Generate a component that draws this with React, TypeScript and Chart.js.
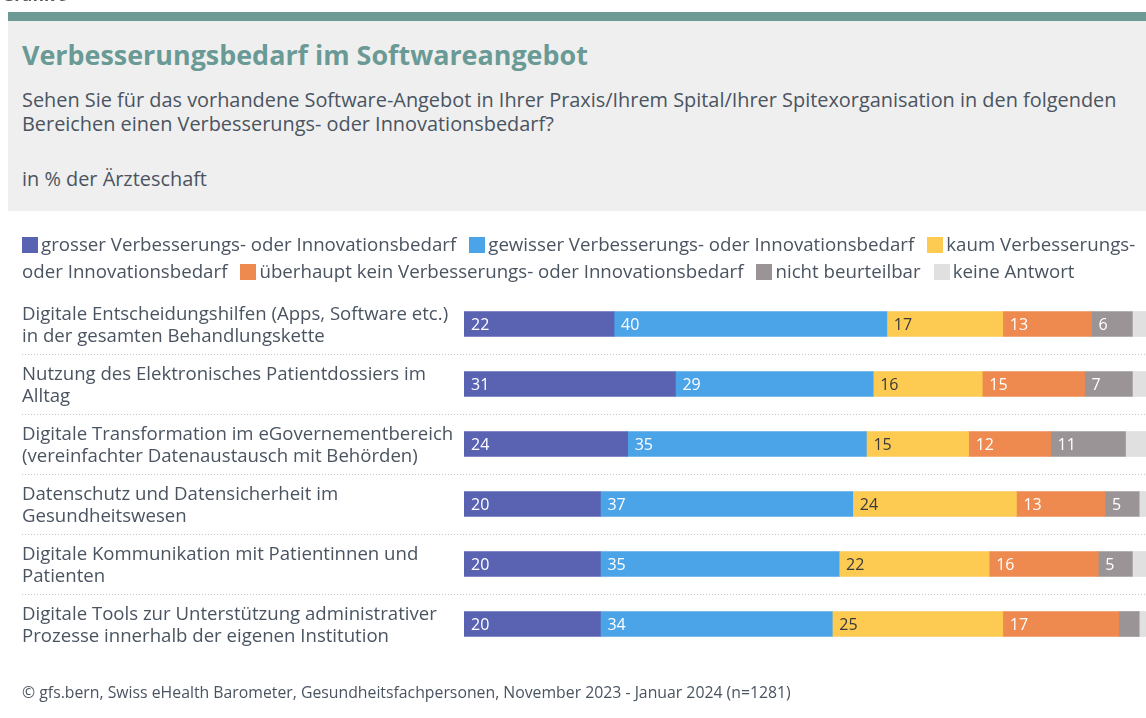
import React, { useEffect, useRef } from "react";
import { Chart, registerables } from "chart.js";

Chart.register(...registerables);

const categories: string[][] = [
  ["Digitale Entscheidungshilfen (Apps, Software etc.)", "in der gesamten Behandlungskette"],
  ["Nutzung des Elektronisches Patientdossiers im", "Alltag"],
  ["Digitale Transformation im eGovernementbereich", "(vereinfachter Datenaustausch mit Behörden)"],
  ["Datenschutz und Datensicherheit im", "Gesundheitswesen"],
  ["Digitale Kommunikation mit Patientinnen und", "Patienten"],
  ["Digitale Tools zur Unterstützung administrativer", "Prozesse innerhalb der eigenen Institution"],
];

const seriesNames = [
  "grosser Verbesserungs- oder Innovationsbedarf",
  "gewisser Verbesserungs- oder Innovationsbedarf",
  "kaum Verbesserungs- oder Innovationsbedarf",
  "überhaupt kein Verbesserungs- oder Innovationsbedarf",
  "nicht beurteilbar",
  "keine Antwort",
];

const grosser = [22, 31, 24, 20, 20, 20];
const gewisser = [40, 29, 35, 37, 35, 34];
const kaum = [17, 16, 15, 24, 22, 25];
const ueberhaupt = [13, 15, 12, 13, 16, 17];
const nichtBeurteilbar = [6, 7, 11, 5, 5, 3];
const keineAntwort = [2, 2, 3, 1, 2, 1];

const seriesValues = [grosser, gewisser, kaum, ueberhaupt, nichtBeurteilbar, keineAntwort];
const seriesColors = ["#5a63b2", "#4ba3e8", "#fdca52", "#ee8a4f", "#9b9496", "#e0e0e0"];
const labelColors = ["#ffffff", "#ffffff", "#3a3a3a", "#ffffff", "#ffffff", "#ffffff"];

const FONT = "'Open Sans', 'Noto Sans', sans-serif";
const TEXT = "#4a5461";

const separatorPlugin = {
  id: "separators",
  beforeDatasetsDraw(chart: any) {
    const y = chart.scales.y;
    const ctx = chart.ctx;
    ctx.save();
    ctx.strokeStyle = "#c8c8c8";
    ctx.lineWidth = 1;
    ctx.setLineDash([1, 2]);
    for (let i = 0; i < categories.length - 1; i++) {
      const yy = Math.round((y.getPixelForValue(i) + y.getPixelForValue(i + 1)) / 2) + 0.5;
      ctx.beginPath();
      ctx.moveTo(0, yy);
      ctx.lineTo(chart.width, yy);
      ctx.stroke();
    }
    ctx.restore();
  },
};

const valueLabelPlugin = {
  id: "valueLabels",
  afterDatasetsDraw(chart: any) {
    const ctx = chart.ctx;
    ctx.save();
    ctx.font = `16px ${FONT}`;
    ctx.textBaseline = "middle";
    ctx.textAlign = "left";
    chart.data.datasets.forEach((ds: any, di: number) => {
      if (di === 5) return;
      const meta = chart.getDatasetMeta(di);
      meta.data.forEach((el: any, i: number) => {
        const v = ds.data[i];
        if (v < 4) return;
        ctx.fillStyle = labelColors[di];
        ctx.fillText(String(v), Math.min(el.x, el.base) + 7, el.y + 1);
      });
    });
    ctx.restore();
  },
};

function BarChart() {
  const ref = useRef<HTMLCanvasElement | null>(null);
  useEffect(() => {
    if (!ref.current) return;
    const chart = new Chart(ref.current, {
      type: "bar",
      data: {
        labels: categories as any,
        datasets: seriesNames.map((name, i) => ({
          label: name,
          data: seriesValues[i],
          backgroundColor: seriesColors[i],
          borderWidth: 0,
          barThickness: 25,
        })),
      },
      options: {
        indexAxis: "y",
        animation: false,
        responsive: false,
        maintainAspectRatio: false,
        layout: { padding: { top: 4, bottom: 6, left: 0, right: 0 } },
        plugins: { legend: { display: false }, tooltip: { enabled: false } },
        scales: {
          x: { stacked: true, min: 0, max: 100, display: false },
          y: {
            stacked: true,
            grid: { display: false },
            border: { display: false },
            ticks: {
              crossAlign: "far",
              color: TEXT,
              font: { family: FONT, size: 18.6, lineHeight: 22 / 18.6 },
              padding: 0,
              labelOffset: 2,
            },
            afterFit(scale: any) {
              scale.width = 442;
              scale.paddingTop = 0;
              scale.paddingBottom = 0;
            },
          },
        },
      } as any,
      plugins: [separatorPlugin, valueLabelPlugin],
    });
    return () => chart.destroy();
  }, []);
  return (
    <canvas
      ref={ref}
      width={1124}
      height={370}
      style={{ position: "absolute", left: 22, top: 290, width: 1124, height: 370 }}
    />
  );
}

export default function App() {
  return (
    <div style={{ position: "fixed", left: 0, top: 0, width: 1146, height: 718, overflow: "hidden", fontFamily: FONT, color: TEXT }}>
      <div style={{ position: "absolute", left: 2, top: -17, fontSize: 17, fontWeight: 700, color: "#555" }}>Grafik 9</div>
      <div style={{ position: "absolute", left: 8, top: 12, width: 1138, height: 9, background: "#6e9a96" }} />
      <div style={{ position: "absolute", left: 8, top: 21, width: 1138, height: 190, background: "#efefef" }} />
      <div style={{ position: "absolute", left: 22, top: 36, fontSize: 26.9, fontWeight: 700, color: "#6a9a95", whiteSpace: "nowrap" }}>
        Verbesserungsbedarf im Softwareangebot
      </div>
      <div style={{ position: "absolute", left: 22, top: 88, fontSize: 19.9, lineHeight: "24px", whiteSpace: "nowrap" }}>
        Sehen Sie für das vorhandene Software-Angebot in Ihrer Praxis/Ihrem Spital/Ihrer Spitexorganisation in den folgenden
        <br />
        Bereichen einen Verbesserungs- oder Innovationsbedarf?
      </div>
      <div style={{ position: "absolute", left: 22, top: 167, fontSize: 19.9, lineHeight: "24px" }}>in % der Ärzteschaft</div>
      <div style={{ position: "absolute", left: 22, top: 230, width: 1130, fontSize: 18.7, lineHeight: "27px" }}>
        {seriesNames.map((n, i) => (
          <span key={i} style={{ marginRight: 13 }}>
            <span
              style={{
                display: "inline-block",
                width: 16,
                height: 16,
                background: seriesColors[i],
                verticalAlign: "-2px",
                marginRight: 3,
              }}
            />
            {n}
          </span>
        ))}
      </div>
      <BarChart />
      <div style={{ position: "absolute", left: 22, top: 682, fontSize: 15.8, lineHeight: "20px" }}>
        © gfs.bern, Swiss eHealth Barometer, Gesundheitsfachpersonen, November 2023 - Januar 2024 (n=1281)
      </div>
    </div>
  );
}
